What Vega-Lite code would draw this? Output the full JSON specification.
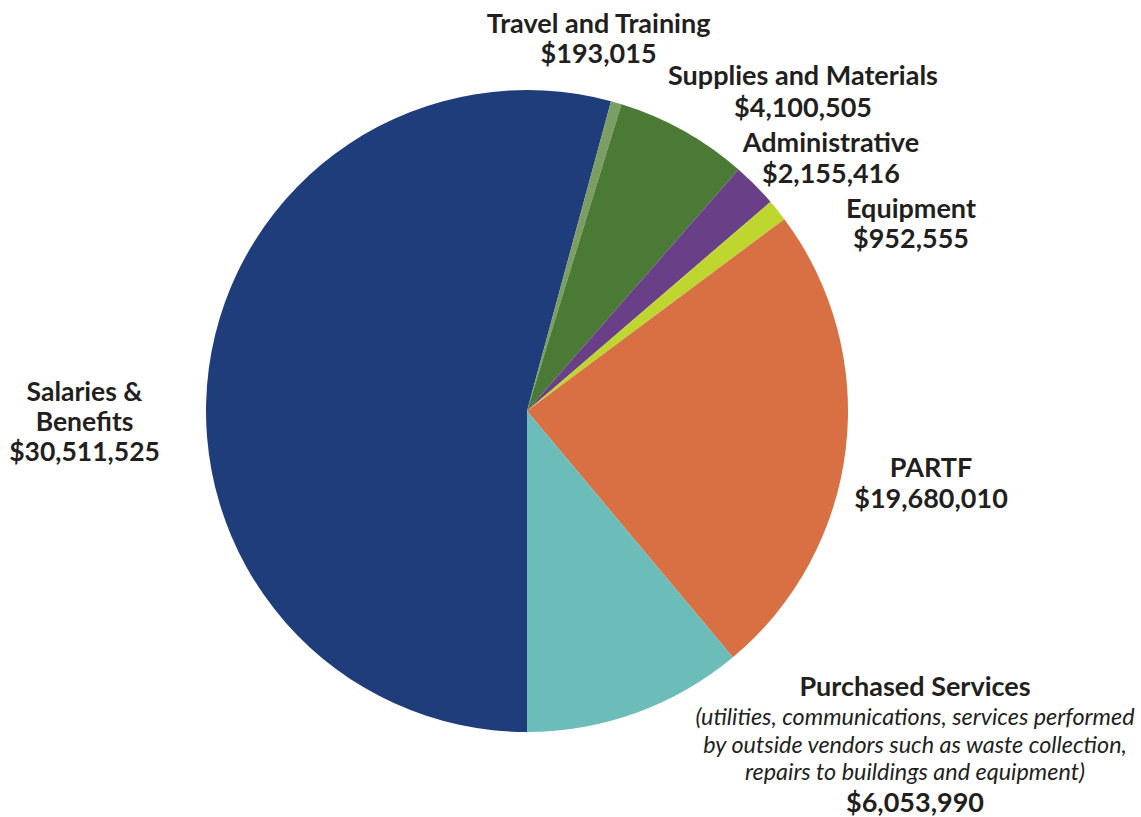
{
  "$schema": "https://vega.github.io/schema/vega-lite/v6.json",
  "autosize": {"type": "none"},
  "width": 1054,
  "height": 812,
  "padding": {"left": 0, "top": 5, "right": 87, "bottom": 0},
  "background": "white",
  "config": {"view": {"stroke": null}},
  "data": {
    "values": [
      {"category": "Salaries & Benefits", "share": 54.21, "rank": 1, "amount": 30511525, "caption": "Salaries &\nBenefits\n$30,511,525"},
      {"category": "Travel and Training", "share": 0.54, "rank": 2, "amount": 193015, "caption": "Travel and Training\n$193,015"},
      {"category": "Supplies and Materials", "share": 6.69, "rank": 3, "amount": 4100505, "caption": "Supplies and Materials\n$4,100,505"},
      {"category": "Administrative", "share": 2.26, "rank": 4, "amount": 2155416, "caption": "Administrative\n$2,155,416"},
      {"category": "Equipment", "share": 1.10, "rank": 5, "amount": 952555, "caption": "Equipment\n$952,555"},
      {"category": "PARTF", "share": 24.11, "rank": 6, "amount": 19680010, "caption": "PARTF\n$19,680,010"},
      {"category": "Purchased Services", "share": 11.08, "rank": 7, "amount": 6053990, "caption": "Purchased Services", "note": "(utilities, communications, services performed\nby outside vendors such as waste collection,\nrepairs to buildings and equipment)"}
    ]
  },
  "encoding": {
    "theta": {"field": "share", "type": "quantitative", "stack": true, "scale": {"range": [3.14159265, 9.42477796]}},
    "order": {"field": "rank", "type": "quantitative"}
  },
  "layer": [
    {
      "mark": {"type": "arc", "outerRadius": 321, "stroke": null},
      "encoding": {
        "color": {
          "field": "category", "type": "nominal", "legend": null,
          "scale": {
            "domain": ["Salaries & Benefits", "Travel and Training", "Supplies and Materials", "Administrative", "Equipment", "PARTF", "Purchased Services"],
            "range": ["#1F3D7A", "#7A9E63", "#4A7A36", "#693F87", "#BED62F", "#D97043", "#6CBDBA"]
          }
        }
      }
    },
    {
      "mark": {"type": "text", "radius": 321, "font": "Lato", "fontWeight": "bold", "fontSize": 26.5, "align": "center", "baseline": "alphabetic", "lineBreak": "\n", "lineHeight": 30, "dx": -124.3, "dy": 32.5, "color": "#231F20"},
      "encoding": {"text": {"condition": {"test": "datum.category === 'Salaries & Benefits'", "field": "caption", "type": "nominal"}, "value": ""}}
    },
    {
      "mark": {"type": "text", "radius": 321, "font": "Lato", "fontWeight": "bold", "fontSize": 27, "align": "center", "baseline": "alphabetic", "lineBreak": "\n", "lineHeight": 30, "dx": -17.7, "dy": -69.6, "color": "#231F20"},
      "encoding": {"text": {"condition": {"test": "datum.category === 'Travel and Training'", "field": "caption", "type": "nominal"}, "value": ""}}
    },
    {
      "mark": {"type": "text", "radius": 321, "font": "Lato", "fontWeight": "bold", "fontSize": 27, "align": "center", "baseline": "alphabetic", "lineBreak": "\n", "lineHeight": 32, "dx": 119.6, "dy": -45.6, "color": "#231F20"},
      "encoding": {"text": {"condition": {"test": "datum.category === 'Supplies and Materials'", "field": "caption", "type": "nominal"}, "value": ""}}
    },
    {
      "mark": {"type": "text", "radius": 321, "font": "Lato", "fontWeight": "bold", "fontSize": 27, "align": "center", "baseline": "alphabetic", "lineBreak": "\n", "lineHeight": 31, "dx": 75.9, "dy": -33.1, "color": "#231F20"},
      "encoding": {"text": {"condition": {"test": "datum.category === 'Administrative'", "field": "caption", "type": "nominal"}, "value": ""}}
    },
    {
      "mark": {"type": "text", "radius": 321, "font": "Lato", "fontWeight": "bold", "fontSize": 27, "align": "center", "baseline": "alphabetic", "lineBreak": "\n", "lineHeight": 30, "dx": 133.4, "dy": 7.6, "color": "#231F20"},
      "encoding": {"text": {"condition": {"test": "datum.category === 'Equipment'", "field": "caption", "type": "nominal"}, "value": ""}}
    },
    {
      "mark": {"type": "text", "radius": 321, "font": "Lato", "fontWeight": "bold", "fontSize": 27, "align": "center", "baseline": "alphabetic", "lineBreak": "\n", "lineHeight": 31, "dx": 85.2, "dy": 28.5, "color": "#231F20"},
      "encoding": {"text": {"condition": {"test": "datum.category === 'PARTF'", "field": "caption", "type": "nominal"}, "value": ""}}
    },
    {
      "mark": {"type": "text", "radius": 321, "font": "Lato", "fontWeight": "bold", "fontSize": 27, "align": "center", "baseline": "alphabetic", "dx": 278.5, "dy": -16.7, "color": "#231F20"},
      "encoding": {"text": {"condition": {"test": "datum.category === 'Purchased Services'", "field": "caption", "type": "nominal"}, "value": ""}}
    },
    {
      "mark": {"type": "text", "radius": 321, "font": "Lato", "fontStyle": "italic", "fontSize": 23.4, "align": "center", "baseline": "alphabetic", "lineBreak": "\n", "lineHeight": 27.5, "dx": 278.5, "dy": 12.3, "color": "#231F20"},
      "encoding": {"text": {"condition": {"test": "datum.category === 'Purchased Services'", "field": "note", "type": "nominal"}, "value": ""}}
    },
    {
      "mark": {"type": "text", "radius": 321, "font": "Lato", "fontWeight": "bold", "fontSize": 27, "align": "center", "baseline": "alphabetic", "dx": 278.5, "dy": 99.3, "color": "#231F20"},
      "encoding": {"text": {"condition": {"test": "datum.category === 'Purchased Services'", "field": "amount", "type": "quantitative", "format": "$,d"}, "value": ""}}
    }
  ]
}
